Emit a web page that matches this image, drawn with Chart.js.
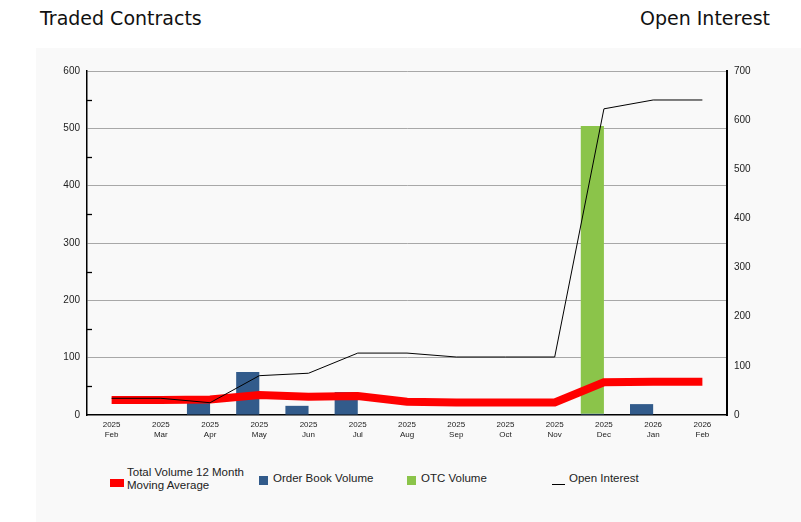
<!DOCTYPE html>
<html>
<head>
<meta charset="utf-8">
<script src="https://cdn.jsdelivr.net/npm/chart.js@4/dist/chart.umd.min.js"></script>
<style>
	body { margin: 0; background: #fff; width: 801px; height: 522px; position: relative; overflow: hidden; font-family: "Liberation Sans", Arial, sans-serif; }
	.title { position: absolute; top: 7px; font-family: "DejaVu Sans", Tahoma, sans-serif; font-size: 19px; color: #111; }
	#panel { position: absolute; left: 36px; top: 48px; width: 765px; height: 474px; background: #f9f9f9; }
	#wrap { position: absolute; left: 0; top: 0; width: 765px; height: 407px; }
	.leg { position: absolute; font-size: 11.5px; line-height: 13px; color: #222; white-space: nowrap; }
	.sw { position: absolute; }
</style>
</head>
<body>
<div class="title" style="left:40px">Traded Contracts</div>
<div class="title" style="right:31px">Open Interest</div>
<div id="panel">
	<div id="wrap"><canvas id="chart"></canvas></div>
</div>
<script>
var years = ['2025', '2025', '2025', '2025', '2025', '2025', '2025', '2025', '2025', '2025', '2025', '2026', '2026'];
var months = ['Feb', 'Mar', 'Apr', 'May', 'Jun', 'Jul', 'Aug', 'Sep', 'Oct', 'Nov', 'Dec', 'Jan', 'Feb'];

var orderBookVolume = [0, 0, 28, 75, 16, 40, 0, 0, 0, 0, 2, 19, 0];
var otcVolume = [0, 0, 0, 0, 0, 0, 0, 0, 0, 0, 502, 0, 0];
var movingAverage = [26, 26, 27, 35, 32, 33, 23, 22, 22, 22, 57, 58, 58];
var openInterest = [34, 34, 25, 80, 85, 126, 126, 118, 118, 118, 623, 641, 641];

var leftTicks = [0, 100, 200, 300, 400, 500, 600];
var leftMinorTicks = [50, 150, 250, 350, 450, 550];
var rightTicks = [0, 100, 200, 300, 400, 500, 600, 700];

var labels = years.map(function (y, i) { return [y, months[i]]; });

// short tick marks inside the plot for the in-between values
var minorTickPlugin = {
	id: 'minorTicks',
	afterDraw: function (chart) {
		var ctx = chart.ctx;
		var y = chart.scales.y;
		ctx.save();
		ctx.strokeStyle = '#000';
		ctx.lineWidth = 1.3;
		leftMinorTicks.forEach(function (v) {
			var py = Math.round(y.getPixelForValue(v)) + 0.5;
			ctx.beginPath();
			ctx.moveTo(y.right, py);
			ctx.lineTo(y.right + 5, py);
			ctx.stroke();
		});
		ctx.restore();
	}
};

var tickFont = { family: '"Liberation Sans", Arial, sans-serif', size: 10 };

new Chart(document.getElementById('chart'), {
	type: 'bar',
	data: {
		labels: labels,
		datasets: [
			{
				type: 'line',
				label: 'Open Interest',
				data: openInterest,
				yAxisID: 'y2',
				borderColor: '#000',
				borderWidth: 1,
				pointRadius: 0,
				tension: 0,
				order: 0
			},
			{
				type: 'line',
				label: 'Total Volume 12 Month Moving Average',
				data: movingAverage,
				yAxisID: 'y',
				borderColor: '#ff0000',
				borderWidth: 8,
				pointRadius: 0,
				tension: 0,
				order: 1
			},
			{
				label: 'Order Book Volume',
				data: orderBookVolume,
				backgroundColor: '#325b8b',
				stack: 'a',
				order: 2
			},
			{
				label: 'OTC Volume',
				data: otcVolume,
				backgroundColor: '#8bc44a',
				stack: 'a',
				order: 3
			},
			{
				// empty second slot, keeps the stacked bar left of the month centre
				label: '',
				data: months.map(function () { return null; }),
				stack: 'b',
				order: 4
			}
		]
	},
	options: {
		responsive: true,
		maintainAspectRatio: false,
		animation: false,
		layout: { padding: { top: 23, left: 0, right: 0, bottom: 0 } },
		categoryPercentage: 0.94,
		barPercentage: 1,
		plugins: {
			legend: { display: false },
			tooltip: { enabled: false }
		},
		scales: {
			x: {
				stacked: true,
				offset: true,
				grid: { display: false, drawTicks: false },
				border: { color: '#000', width: 1.5 },
				ticks: { color: '#222', font: { family: tickFont.family, size: 8 }, padding: 5, maxRotation: 0, autoSkip: false },
				afterFit: function (scale) { scale.height = 40; }
			},
			y: {
				position: 'left',
				stacked: true,
				min: 0,
				max: 600,
				afterBuildTicks: function (scale) {
					scale.ticks = leftTicks.concat(leftMinorTicks).sort(function (a, b) { return a - b; }).map(function (v) { return { value: v }; });
				},
				ticks: {
					color: '#222',
					font: tickFont,
					padding: 7,
					callback: function (v) { return leftTicks.indexOf(v) >= 0 ? v : ''; }
				},
				grid: {
					drawTicks: false,
					color: function (c) { return c.tick && leftTicks.indexOf(c.tick.value) > 0 ? '#a8a8a8' : 'rgba(0,0,0,0)'; }
				},
				border: { color: '#000', width: 1.5 },
				afterFit: function (scale) { scale.width = 51; }
			},
			y2: {
				position: 'right',
				min: 0,
				max: 700,
				afterBuildTicks: function (scale) {
					scale.ticks = rightTicks.map(function (v) { return { value: v }; });
				},
				ticks: { color: '#222', font: tickFont, padding: 7 },
				grid: { drawOnChartArea: false, drawTicks: false },
				border: { color: '#000', width: 2 },
				afterFit: function (scale) { scale.width = 74; }
			}
		}
	},
	plugins: [minorTickPlugin]
});

// legend below the chart
var legendItems = [
	{ text: 'Total Volume 12 Month<br>Moving Average', kind: 'box', color: '#ff0000', x: 110 },
	{ text: 'Order Book Volume', kind: 'square', color: '#325b8b', x: 259 },
	{ text: 'OTC Volume', kind: 'square', color: '#8bc44a', x: 407 },
	{ text: 'Open Interest', kind: 'line', color: '#000', x: 552 }
];
legendItems.forEach(function (item) {
	var sw = document.createElement('div');
	sw.className = 'sw';
	sw.style.background = item.color;
	var t = document.createElement('div');
	t.className = 'leg';
	t.innerHTML = item.text;
	if (item.kind === 'box') {
		sw.style.cssText += 'left:' + item.x + 'px;top:479px;width:14px;height:8px;';
		t.style.cssText += 'left:' + (item.x + 17) + 'px;top:466px;';
	} else if (item.kind === 'square') {
		sw.style.cssText += 'left:' + item.x + 'px;top:476px;width:9px;height:9px;';
		t.style.cssText += 'left:' + (item.x + 14) + 'px;top:472px;';
	} else {
		sw.style.cssText += 'left:' + item.x + 'px;top:484px;width:13px;height:1px;';
		t.style.cssText += 'left:' + (item.x + 17) + 'px;top:472px;';
	}
	document.body.appendChild(sw);
	document.body.appendChild(t);
});
</script>
</body>
</html>
